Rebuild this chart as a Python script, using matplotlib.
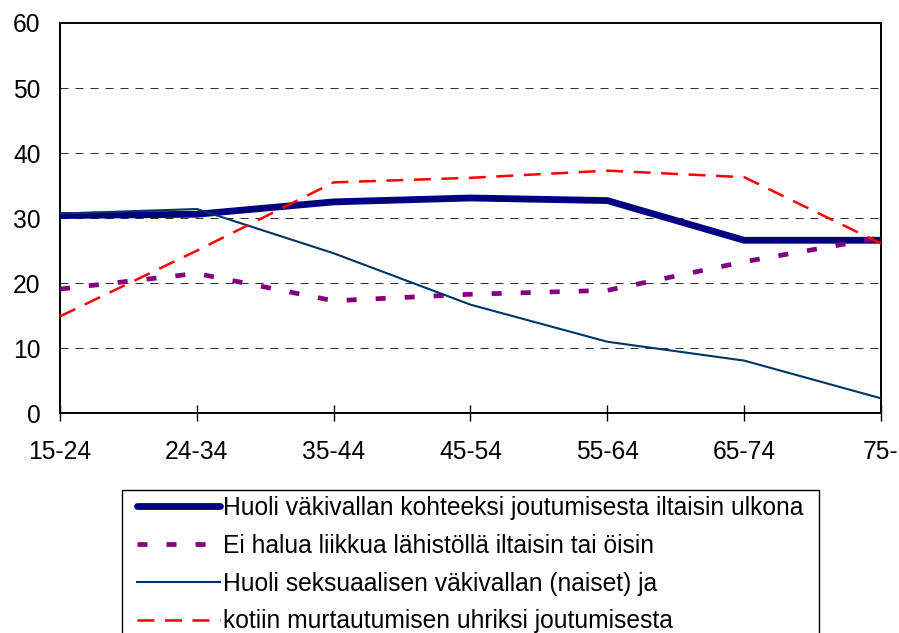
import matplotlib
matplotlib.use("Agg")
import matplotlib.pyplot as plt
from matplotlib.patches import Rectangle
import numpy as np

plt.rcParams['font.family'] = ['Liberation Sans', 'DejaVu Sans']
plt.rcParams['lines.scale_dashes'] = False

ages = ['15-24', '24-34', '35-44', '45-54', '55-64', '65-74', '75-']

huoli_ulkona = [30.4, 30.6, 32.5, 33.1, 32.7, 26.6, 26.6]
ei_liiku = [19.1, 21.5, 17.3, 18.3, 18.9, 23.3, 27.0]
huoli_seks = [30.7, 31.4, 24.6, 16.7, 11.0, 8.1, 2.3]
murto = [14.9, 25.0, 35.5, 36.2, 37.3, 36.3, 26.1]

labels = ['Huoli väkivallan kohteeksi joutumisesta iltaisin ulkona',
          'Ei halua liikkua lähistöllä iltaisin tai öisin',
          'Huoli seksuaalisen väkivallan (naiset) ja',
          'kotiin murtautumisen uhriksi joutumisesta']

fs = 17.7

fig = plt.figure(figsize=(8.99, 6.33), dpi=100)
ax = fig.add_axes([60/899, 1 - 413.3/633, 821/899, 390.3/633])

x = np.arange(len(ages))

l1, = ax.plot(x, huoli_ulkona, color='#000080', lw=4.9, solid_capstyle='round', zorder=3)
l2, = ax.plot(x, ei_liiku, color='#800080', lw=3.4, dashes=(7.2, 13.7),
              dash_capstyle='butt', zorder=4)
l3, = ax.plot(x, huoli_seks, color='#003366', lw=1.5, zorder=5)
l4, = ax.plot(x, murto, color='#ff0000', lw=1.8, dashes=(12.2, 7.6), zorder=6)

ax.set_xlim(0, 6)
ax.set_ylim(0, 60)
ax.set_yticks(range(0, 61, 10))
ax.set_xticks(x)
ax.set_xticklabels(ages)

for yv in range(10, 60, 10):
    ax.axhline(yv, color='#333333', lw=0.75, dashes=(5.8, 5.0), zorder=1)

for s in ax.spines.values():
    s.set_linewidth(1.4)
    s.set_color('black')

ax.tick_params(axis='y', length=0, pad=14, labelsize=fs)
ax.tick_params(axis='x', direction='inout', length=11, width=1, pad=14, labelsize=fs)

# legend frame (cut off by the bottom edge like in the original)
fig.add_artist(Rectangle((122/899, -0.1), 697/899, 1 - 490/633 + 0.1,
                         transform=fig.transFigure, fill=False, lw=1.0,
                         ec='black', zorder=10))

leg = fig.legend([l1, l2, l3, l4], labels,
                 loc='upper left',
                 bbox_to_anchor=(136.7/899, 1 - 496/633),
                 borderaxespad=0, borderpad=0, fontsize=fs, frameon=False,
                 handlelength=3.4, handletextpad=0.12, labelspacing=0.56)

fig.savefig('out.png', dpi=100)
